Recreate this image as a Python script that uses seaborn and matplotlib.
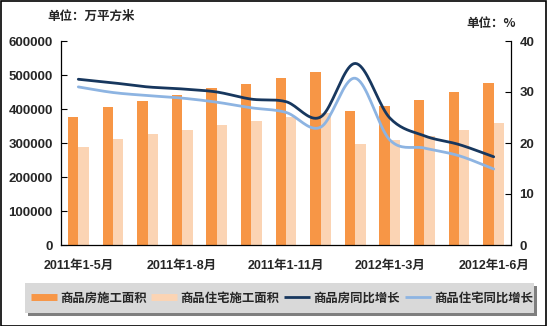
import numpy as np
import pandas as pd
import matplotlib
matplotlib.use("Agg")
import matplotlib.pyplot as plt
import seaborn as sns
from matplotlib.lines import Line2D
from matplotlib.patches import Rectangle

periods = ["2011年1-5月", "2011年1-6月", "2011年1-7月", "2011年1-8月", "2011年1-9月",
           "2011年1-10月", "2011年1-11月", "2011年1-12月", "2012年1-2月", "2012年1-3月",
           "2012年1-4月", "2012年1-5月", "2012年1-6月"]
area_all = [376000, 406000, 424000, 441000, 462000, 474000, 491000, 509000,
            394000, 409000, 426000, 450000, 476000]
area_res = [288000, 312000, 326000, 338000, 353000, 365000, 376000, 388000,
            297000, 309000, 321000, 338000, 359000]
growth_all = [32.5, 31.8, 31.0, 30.6, 30.0, 28.6, 28.1, 25.1, 35.6, 24.9, 21.4, 19.7, 17.3]
growth_res = [31.0, 29.9, 29.3, 28.8, 28.0, 26.9, 26.0, 23.1, 32.7, 20.6, 19.0, 17.5, 14.9]
series_names = ["商品房施工面积", "商品住宅施工面积", "商品房同比增长", "商品住宅同比增长"]
shown_labels = {0: "2011年1-5月", 3: "2011年1-8月", 6: "2011年1-11月", 9: "2012年1-3月", 12: "2012年1-6月"}

c_orange = "#F79646"
c_peach = "#FBD4B4"
c_navy = "#17375E"
c_lblue = "#8DB4E2"

sns.set_style("white")
plt.rcParams["font.family"] = ["Liberation Sans", "Noto Sans CJK SC", "DejaVu Sans"]
plt.rcParams["font.weight"] = "bold"

fig = plt.figure(figsize=(5.47, 3.26), dpi=100)
ax = fig.add_axes([61/547, 1-245/326, 450/547, 204/326])

df = pd.DataFrame({
    "period": periods * 2,
    "value": area_all + area_res,
    "series": [series_names[0]] * len(periods) + [series_names[1]] * len(periods),
})
sns.barplot(data=df, x="period", y="value", hue="series", order=periods,
            hue_order=series_names[:2], palette=[c_orange, c_peach],
            width=0.6, dodge=True, ax=ax, legend=False, saturation=1, linewidth=0)

ax.set_xlim(-0.5, len(periods) - 0.5)
ax.set_ylim(0, 600000)
ax.set_yticks(np.arange(0, 600001, 100000))
ax.set_yticklabels([str(v) for v in range(0, 600001, 100000)], fontsize=9.5, fontweight="bold")
ax.set_xticks([i for i in shown_labels])
ax.set_xticklabels([shown_labels[i] for i in shown_labels], fontsize=9, fontweight="bold")
ax.set_xticks(np.arange(-0.5, len(periods), 1), minor=True)
ax.tick_params(axis="x", which="major", length=0, pad=11)
ax.tick_params(axis="x", which="minor", direction="in", length=4, width=0.8, color="black")
ax.tick_params(axis="y", direction="in", length=4, width=0.8, color="black", left=True, pad=6)
ax.set_xlabel("")
ax.set_ylabel("")
for s in ["top", "right"]:
    ax.spines[s].set_visible(False)
for s in ["left", "bottom"]:
    ax.spines[s].set_color("black")
    ax.spines[s].set_linewidth(0.9)

ax2 = ax.twinx()

def smooth(xs, ys, n=20):
    xs = np.asarray(xs, float); ys = np.asarray(ys, float)
    px = np.concatenate([[2*xs[0]-xs[1]], xs, [2*xs[-1]-xs[-2]]])
    py = np.concatenate([[2*ys[0]-ys[1]], ys, [2*ys[-1]-ys[-2]]])
    ox, oy = [], []
    for i in range(1, len(px) - 2):
        t = np.linspace(0, 1, n, endpoint=False)
        for P, out in ((px, ox), (py, oy)):
            p0, p1, p2, p3 = P[i-1], P[i], P[i+1], P[i+2]
            out.extend(0.5 * ((2*p1) + (-p0 + p2)*t + (2*p0 - 5*p1 + 4*p2 - p3)*t**2
                              + (-p0 + 3*p1 - 3*p2 + p3)*t**3))
    ox.append(xs[-1]); oy.append(ys[-1])
    return np.array(ox), np.array(oy)

xpos = np.arange(len(periods))
sx, sy = smooth(xpos, growth_all)
sns.lineplot(x=sx, y=sy, ax=ax2, color=c_navy, linewidth=2, sort=False)
sx, sy = smooth(xpos, growth_res)
sns.lineplot(x=sx, y=sy, ax=ax2, color=c_lblue, linewidth=2, sort=False)

ax2.set_xlim(-0.5, len(periods) - 0.5)
ax2.set_ylim(0, 40)
ax2.set_yticks([0, 10, 20, 30, 40])
ax2.set_yticklabels(["0", "10", "20", "30", "40"], fontsize=9.5, fontweight="bold")
ax2.tick_params(axis="y", direction="in", length=4, width=0.8, color="black", right=True, pad=6)
ax2.set_ylabel("")
ax2.spines["top"].set_visible(False)
ax2.spines["left"].set_visible(False)
ax2.spines["bottom"].set_visible(False)
ax2.spines["right"].set_color("black")
ax2.spines["right"].set_linewidth(0.9)

fig.text(47/547, 1-16/326, "单位：万平方米", fontsize=9, fontweight="bold",
         va="center", ha="left", family=["Noto Sans CJK SC", "DejaVu Sans"])
fig.text(466/547, 1-23/326, "单位：%", fontsize=9, fontweight="bold",
         va="center", ha="left", family=["Noto Sans CJK SC", "DejaVu Sans"])

# legend box
shadow = Rectangle((28/547, 1-316/326), 509/547, 30/326, transform=fig.transFigure,
                   facecolor="#7f7f7f", edgecolor="none", zorder=0)
box = Rectangle((25/547, 1-313/326), 509/547, 30/326, transform=fig.transFigure,
                facecolor="#d9d9d9", edgecolor="none", zorder=1)
fig.patches.extend([shadow, box])
handles = [Line2D([], [], color=c_orange, lw=5, solid_capstyle="butt"),
           Line2D([], [], color=c_peach, lw=5, solid_capstyle="butt"),
           Line2D([], [], color=c_navy, lw=2, solid_capstyle="butt"),
           Line2D([], [], color=c_lblue, lw=2, solid_capstyle="butt")]
leg = fig.legend(handles, series_names, loc="center", bbox_to_anchor=(282/547, 1-298/326),
                 ncol=4, frameon=False, handlelength=2.1, handletextpad=0.25, columnspacing=0.4,
                 borderpad=0, borderaxespad=0,
                 prop={"family": ["Noto Sans CJK SC", "DejaVu Sans"], "weight": "bold", "size": 8.9})
leg.set_zorder(5)

fig.patches.append(Rectangle((0.5/547, 0.5/326), 545.5/547, 324.5/326, transform=fig.transFigure,
                             facecolor="none", edgecolor="black", linewidth=1.2, zorder=10))

fig.savefig("out.png", dpi=100)
